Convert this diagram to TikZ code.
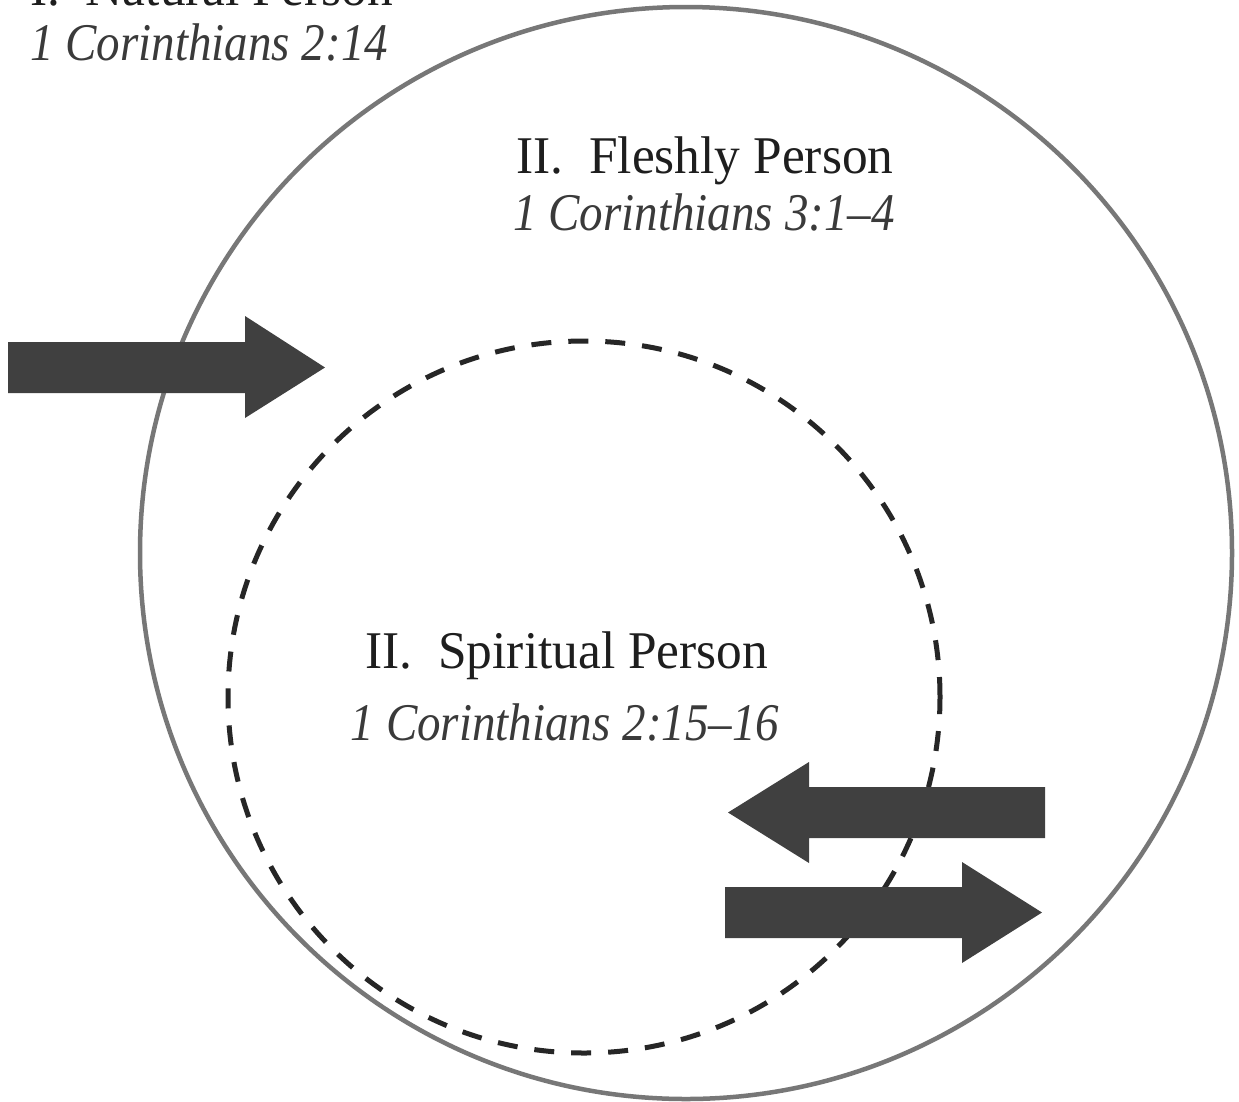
\documentclass[tikz,border=0pt]{standalone}
\usepackage{fontspec}
\setmainfont{Liberation Serif}
\newfontfamily\romanfont{Liberation Serif}[FakeStretch=0.97,Ligatures=TeX]
\newfontfamily\italfont{Liberation Serif Italic}[FakeStretch=0.887,Ligatures=TeX]
\definecolor{ringgray}{HTML}{777777}
\definecolor{arrowgray}{HTML}{404040}
\definecolor{textdark}{HTML}{1E1E1E}
\definecolor{textital}{HTML}{3A3A3A}
\begin{document}
\begin{tikzpicture}[x=1pt,y=-1pt,
  ring/.style={circle,draw=ringgray,line width=4.5pt,inner sep=0pt,minimum size=1092pt},
  innerring/.style={circle,draw=black!85,line width=5pt,dash pattern=on 20pt off 17pt,inner sep=0pt,minimum size=712pt},
  bigarrow/.style={fill=arrowgray},
  title/.style={anchor=base,inner sep=0pt,text=textdark,font=\romanfont\fontsize{53}{60}\selectfont},
  ref/.style={anchor=base,inner sep=0pt,text=textital,font=\italfont\fontsize{53}{60}\selectfont}]
\useasboundingbox (0,0) rectangle (1239,1101);
\fill[white] (0,0) rectangle (1239,1101);
\node[ring] (outer) at (686,553) {};
\node[innerring] (inner) at (584,697) {};
% arrows
\fill[bigarrow] (8,342) -- (245,342) -- (245,316) -- (325,367.5) -- (245,418) -- (245,393) -- (8,393) -- cycle;
\fill[bigarrow] (728,812.5) -- (809,762) -- (809,787) -- (1045,787) -- (1045,838) -- (809,838) -- (809,863) -- cycle;
\fill[bigarrow] (725,887) -- (962,887) -- (962,862) -- (1042,912.5) -- (962,963) -- (962,938) -- (725,938) -- cycle;
% texts
\node[title,anchor=base west] (nat) at (30,5) {I.\ \ Natural Person};
\node[ref,anchor=base west] (natref) at (30,60) {1 Corinthians 2:14};
\node[title] (flesh) at (705,173) {II.\ \ Fleshly Person};
\node[ref] (fleshref) at (704,230) {1 Corinthians 3:1–4};
\node[title] (spirit) at (567,668) {II.\ \ Spiritual Person};
\node[ref] (spiritref) at (565,740) {1 Corinthians 2:15–16};
\end{tikzpicture}
\end{document}
